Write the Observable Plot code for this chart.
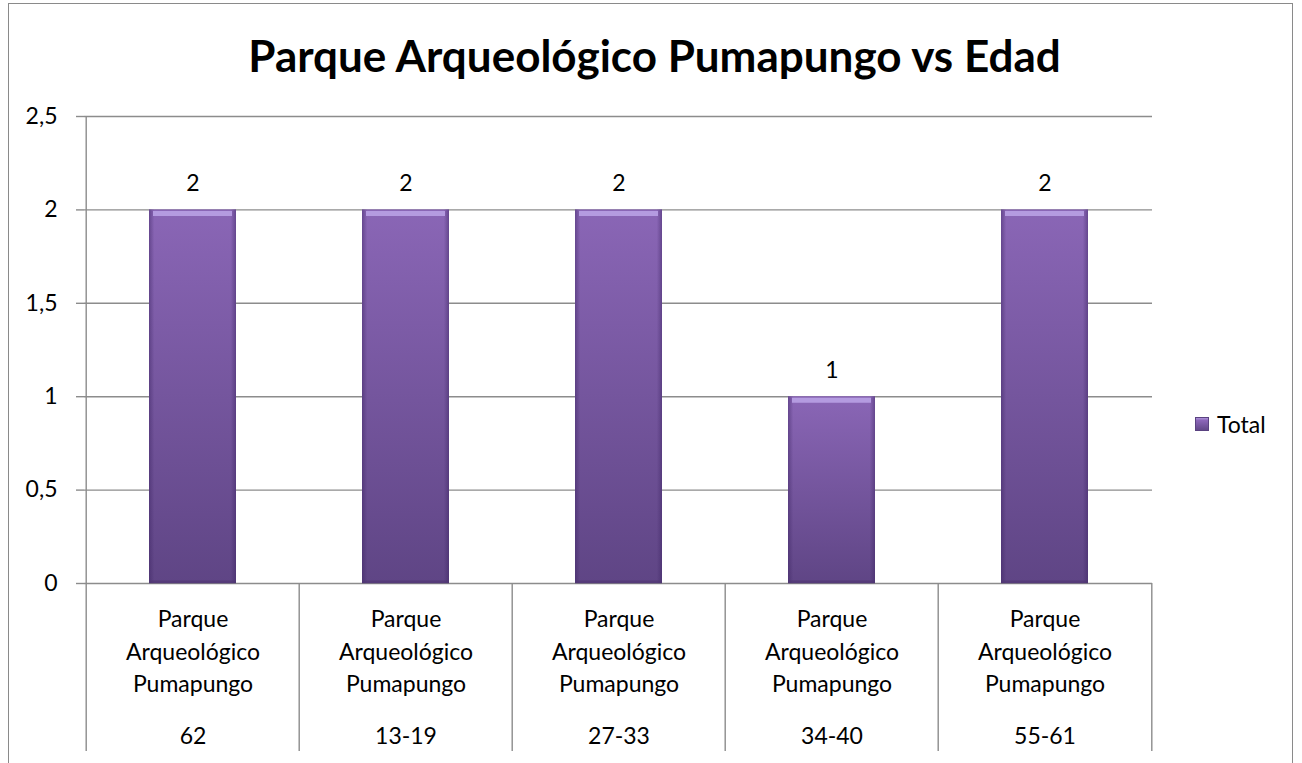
<!DOCTYPE html>
<html>
<head>
<meta charset="utf-8">
<script src="https://cdn.jsdelivr.net/npm/d3@7"></script>
<script src="https://cdn.jsdelivr.net/npm/@observablehq/plot@0.6"></script>
<style>
  html, body { margin: 0; padding: 0; background: #fff; overflow: hidden; }
  #wrap { position: relative; width: 1302px; height: 763px; font-family: Lato, "Open Sans", sans-serif; }
  #border { position: absolute; left: 8px; top: 3px; width: 1285px; height: 820px; border: 1.5px solid #8a8a8a; box-sizing: border-box; }
  #chart { position: absolute; left: 0; top: 0; }
  #legend { position: absolute; left: 1195px; top: 410px; display: flex; align-items: center; font-size: 23px; color: #000; }
  #legend .sw { width: 14px; height: 14px; margin-right: 8px; background: linear-gradient(#b9a2e6 0, #8b66b8 25%, #5e4584 100%); box-shadow: inset 0 0 0 1px #5a4280; }
</style>
</head>
<body>
<div id="wrap">
  <div id="border"></div>
  <div id="chart"></div>
  <div id="legend"></div>
</div>
<script>
const chartTitle = "Parque Arqueológico Pumapungo vs Edad";
const seriesName = "Total";
const parkLabel = "Parque Arqueológico Pumapungo";
const ageGroups = ["62", "13-19", "27-33", "34-40", "55-61"];
const totals = [2, 2, 2, 1, 2];
const yTicks = [0, 0.5, 1, 1.5, 2, 2.5];

const data = ageGroups.map((age, i) => ({age, park: parkLabel, total: totals[i]}));
const fmt = d => String(d).replace(".", ",");

const W = 1302, H = 763;
const mL = 84, mR = 150, mT = 116, mB = 180;
const step = (W - mL - mR) / ageGroups.length;
const catDepth = -0.9; // category axis extends below zero line
const font = "Lato, 'Open Sans', sans-serif";
const fs = 23;
const grid = "#8c8c8c";

const chart = Plot.plot({
  width: W, height: H,
  marginLeft: mL, marginRight: mR, marginTop: mT, marginBottom: mB,
  style: {fontFamily: font, fontSize: fs + "px", color: "#000", background: "transparent", overflow: "visible"},
  x: {domain: ageGroups, paddingInner: 0.593, paddingOuter: 0.2965, axis: null},
  y: {domain: [0, 2.5], axis: null},
  marks: [
    Plot.ruleY(yTicks, {stroke: grid, strokeWidth: 1.4}),
    Plot.axisY(yTicks, {tickSize: 8, tickPadding: 19, tickFormat: fmt, stroke: grid, strokeWidth: 1.4, fontSize: fs, fill: "#000", label: null}),
    // left value axis line extending into the category area
    Plot.ruleX([ageGroups[0]], {dx: -step / 2, y1: catDepth, y2: 2.5, stroke: grid, strokeWidth: 1.4}),
    // category dividers
    Plot.ruleX(ageGroups.slice(1), {dx: -step / 2, y1: catDepth, y2: 0, stroke: grid, strokeWidth: 1.4}),
    Plot.ruleX([ageGroups[ageGroups.length - 1]], {dx: step / 2, y1: catDepth, y2: 0, stroke: grid, strokeWidth: 1.4}),
    // bars
    Plot.barY(data, {x: "age", y: "total", fill: "url(#barV)"}),
    Plot.barY(data, {x: "age", y: "total", fill: "url(#barH)"}),
    Plot.tickY(data, {x: "age", y: "total", stroke: "#b49be0", strokeWidth: 5, dy: 3.5, insetLeft: 4, insetRight: 4}),
    Plot.tickY(data, {x: "age", y: 0, stroke: "#4e3672", strokeWidth: 3, dy: -1.5, strokeOpacity: 0.6}),
    // value labels
    Plot.text(data, {x: "age", y: "total", text: d => fmt(d.total), dy: -26, fontSize: fs, fill: "#000", lineAnchor: "middle"}),
    // multi-level category labels
    Plot.text(data, {x: "age", text: d => d.park.split(" ").join("\n"), frameAnchor: "bottom", dy: 66, lineAnchor: "middle", lineHeight: 1.41, fontSize: fs, fill: "#000"}),
    Plot.text(data, {x: "age", text: "age", frameAnchor: "bottom", dy: 153, lineAnchor: "middle", fontSize: fs, fill: "#000"}),
    // title
    Plot.text([chartTitle], {frameAnchor: "top", dx: 36, dy: -59, lineAnchor: "middle", fontSize: 44, fontWeight: "bold", fill: "#000"})
  ]
});

const ns = "http://www.w3.org/2000/svg";
const defs = document.createElementNS(ns, "defs");
defs.innerHTML = `
  <linearGradient id="barV" x1="0" y1="0" x2="0" y2="1">
    <stop offset="0" stop-color="#8a66b6"/>
    <stop offset="1" stop-color="#5f4585"/>
  </linearGradient>
  <linearGradient id="barH" x1="0" y1="0" x2="1" y2="0">
    <stop offset="0" stop-color="#3a2260" stop-opacity="0.45"/>
    <stop offset="0.06" stop-color="#3a2260" stop-opacity="0"/>
    <stop offset="0.94" stop-color="#3a2260" stop-opacity="0"/>
    <stop offset="1" stop-color="#3a2260" stop-opacity="0.45"/>
  </linearGradient>`;
chart.insertBefore(defs, chart.firstChild);
document.getElementById("chart").appendChild(chart);

const legend = document.getElementById("legend");
legend.innerHTML = `<span class="sw"></span><span></span>`;
legend.lastChild.textContent = seriesName;
</script>
</body>
</html>
